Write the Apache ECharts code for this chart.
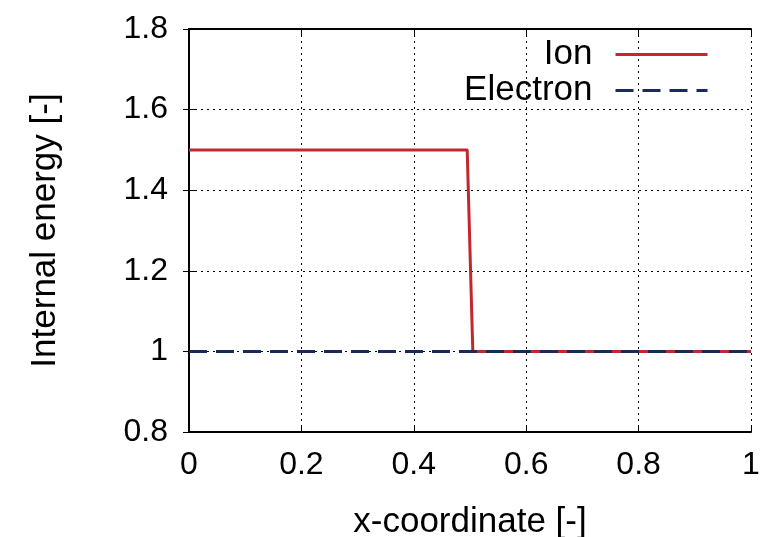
<!DOCTYPE html>
<html><head><meta charset="utf-8">
<script src="https://cdn.jsdelivr.net/npm/echarts@6/dist/echarts.min.js"></script>
<style>html,body{margin:0;padding:0;background:#fff}#c{width:782px;height:537px}</style>
</head><body><div id="c"></div>
<script>
const ionX = [0, 0.495, 0.505, 1.0];
const ionY = [1.5, 1.5, 1.0, 1.0];
const electronX = [0, 1.0];
const electronY = [1.0, 1.0];
const seriesNames = ['Ion', 'Electron'];
const xTicks = [0, 0.2, 0.4, 0.6, 0.8, 1];
const yTicks = [0.8, 1, 1.2, 1.4, 1.6, 1.8];

const font = 'Liberation Sans, Arial, Helvetica, sans-serif';
const chart = echarts.init(document.getElementById('c'));
const pairs = (xs, ys) => xs.map((x, i) => [x, ys[i]]);
const fmt = v => String(parseFloat(v.toFixed(2)));
const gridLine = {show: true, lineStyle: {color: '#000', type: [2, 4], width: 1}};
chart.setOption({
  animation: false,
  textStyle: {fontFamily: font},
  grid: {left: 189, right: 31, top: 29, bottom: 105, containLabel: false, outerBoundsMode: 'none'},
  legend: {
    data: seriesNames, orient: 'vertical', right: 68, top: 32, align: 'right',
    itemWidth: 92, itemHeight: 14, itemGap: 1,
    itemStyle: {opacity: 0},
    lineStyle: {width: 3},
    textStyle: {fontSize: 35, color: '#000', fontFamily: font, padding: [0, 18, 0, 0]}
  },
  xAxis: [{
    type: 'value', min: xTicks[0], max: xTicks[xTicks.length - 1], interval: 0.2,
    name: 'x-coordinate [-]', nameLocation: 'middle', nameGap: 73,
    nameTextStyle: {fontSize: 35, color: '#000', fontFamily: font},
    axisLine: {show: true, onZero: false, lineStyle: {color: '#000', width: 2}},
    axisTick: {show: true, inside: true, length: 6, lineStyle: {color: '#000'}},
    axisLabel: {fontSize: 32, color: '#000', margin: 17, formatter: fmt},
    splitLine: gridLine
  }, {
    type: 'value', position: 'top', min: 0, max: 1, interval: 0.2,
    axisLine: {show: true, lineStyle: {color: '#000', width: 2}},
    axisTick: {show: true, inside: true, length: 6, lineStyle: {color: '#000'}},
    axisLabel: {show: false}, splitLine: {show: false}
  }],
  yAxis: [{
    type: 'value', min: yTicks[0], max: yTicks[yTicks.length - 1], interval: 0.2,
    name: 'Internal energy [-]', nameLocation: 'middle', nameGap: 126,
    nameTextStyle: {fontSize: 35, color: '#000', fontFamily: font},
    axisLine: {show: true, onZero: false, lineStyle: {color: '#000', width: 2}},
    axisTick: {show: true, inside: true, length: 6, lineStyle: {color: '#000'}},
    axisLabel: {fontSize: 32, color: '#000', margin: 21, formatter: fmt},
    splitLine: gridLine
  }, {
    type: 'value', position: 'right', min: 0.8, max: 1.8, interval: 0.2,
    axisLine: {show: true, lineStyle: {color: '#000', width: 2}},
    axisTick: {show: true, inside: true, length: 6, lineStyle: {color: '#000'}},
    axisLabel: {show: false}, splitLine: {show: false}
  }],
  series: [{
    name: seriesNames[0], type: 'line', showSymbol: false, symbol: 'none',
    data: pairs(ionX, ionY), color: '#c4262e',
    lineStyle: {color: '#c4262e', width: 3}, z: 2
  }, {
    name: seriesNames[1], type: 'line', showSymbol: false, symbol: 'none',
    data: pairs(electronX, electronY), color: '#1b2a5c',
    lineStyle: {color: '#1b2a5c', width: 3, type: [18, 9]}, z: 3
  }]
});
</script></body></html>
